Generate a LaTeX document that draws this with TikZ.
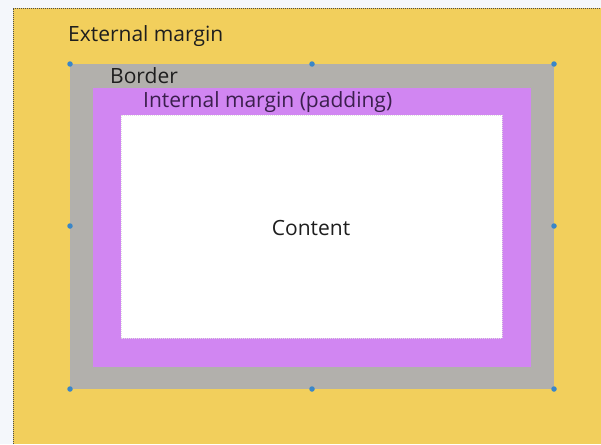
\documentclass[tikz,border=0pt]{standalone}
\usepackage{fontspec}
\setmainfont{Open Sans}
\definecolor{pagebg}{HTML}{F4F7FB}
\definecolor{ylw}{HTML}{F2CF5C}
\definecolor{brd}{HTML}{B2B0AC}
\definecolor{pad}{HTML}{D186F2}
\definecolor{txt}{HTML}{1E1E1E}
\definecolor{padtxt}{HTML}{3B1F4D}
\definecolor{handle}{HTML}{3A86C8}
\begin{document}
\begin{tikzpicture}[x=1pt,y=-1pt,
  lbl/.style={font=\fontsize{21}{24}\selectfont, text=txt, anchor=west, inner sep=0pt},
  dot/.style={circle, fill=handle, inner sep=0pt, minimum size=5.5pt}]
\useasboundingbox (0,0) rectangle (601,444);
\fill[pagebg] (0,0) rectangle (601,444);
\fill[ylw] (13,8) rectangle (601,444);
\draw[black!70, line width=0.8pt, dash pattern=on 1pt off 1pt] (13,444) -- (13,8) -- (601,8);
\fill[brd] (70,64) rectangle (554,389);
\fill[pad] (93,88) rectangle (531,367);
\fill[white] (121,115) rectangle (502,338);
\draw[black!12, dash pattern=on 1pt off 1pt] (121,115) rectangle (502,338);
\node[lbl] (ext) at (68,36) {External margin};
\node[lbl] (bor) at (110,76) {Border};
\node[lbl, text=padtxt] (padl) at (143,102) {Internal margin (padding)};
\node[lbl, anchor=center] (cont) at (311,228) {Content};
\foreach \x/\y [count=\i] in {70/64, 312/64, 554/64, 70/226, 554/226, 70/389, 312/389, 554/389}
  \node[dot] (h\i) at (\x,\y) {};
\end{tikzpicture}
\end{document}
